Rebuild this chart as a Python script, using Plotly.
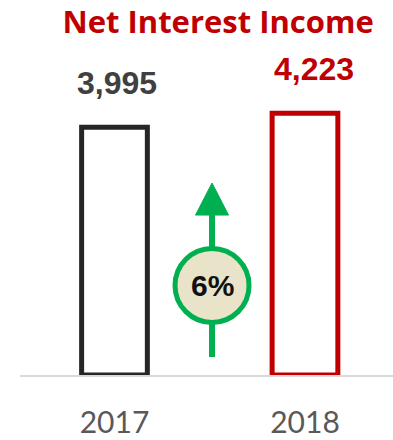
import plotly.graph_objects as go

# Net interest income by year
years = ["2017", "2018"]
income = [3995, 4223]
value_labels = ["3,995", "4,223"]
growth_label = "6%"

bar_colors = ["#262626", "#C00000"]
label_colors = ["#404040", "#C00000"]
green = "#00B050"

fig = go.Figure()
fig.add_trace(go.Bar(
    x=years, y=income, width=0.345,
    marker=dict(color="white", line=dict(color=bar_colors, width=5)),
    hoverinfo="skip",
))

# value labels above each bar (positioned by category index)
for i, (val, txt, col, dx) in enumerate(zip(income, value_labels, label_colors, [3, 9])):
    fig.add_annotation(x=i, y=val, text=f"<b>{txt}</b>", showarrow=False,
                       yanchor="middle", yshift=44, xshift=dx,
                       font=dict(family="Liberation Sans", size=32, color=col))

# growth arrow between the bars
ax = 0.512
head_half = 0.0866
fig.add_shape(type="line", x0=ax, x1=ax, y0=290, y1=2600, xref="x", yref="y",
              line=dict(color=green, width=6))
fig.add_shape(type="path", xref="x", yref="y",
              path=f"M {ax - head_half},2580 L {ax},3097 L {ax + head_half},2580 Z",
              fillcolor=green, line=dict(color=green, width=1))
fig.add_shape(type="circle", xref="x", yref="y", xsizemode="pixel", ysizemode="pixel",
              xanchor=ax, yanchor=1444, x0=-37, x1=37, y0=-37, y1=37,
              fillcolor="#E9E4C9", line=dict(color=green, width=5))
fig.add_annotation(x=ax, y=1444, text=f"<b>{growth_label}</b>", showarrow=False,
                   font=dict(family="Liberation Sans", size=30, color="#111111"))

fig.update_layout(
    width=393, height=440,
    margin=dict(l=20, r=0, t=65, b=65),
    paper_bgcolor="white", plot_bgcolor="white",
    showlegend=False,
    title=dict(text="<b>Net Interest Income</b>", x=0.555, y=0.95,
               xanchor="center", yanchor="middle", xref="container", yref="container",
               font=dict(family="Open Sans", size=31, color="#C00000")),
    xaxis=dict(type="category", range=[-0.496, 1.462], showline=True,
               linecolor="#D9D9D9", linewidth=2, showgrid=False, ticks="",
               tickfont=dict(family="Lato", size=30, color="#595959"),
               ticklabelstandoff=20, automargin=False, fixedrange=True),
    yaxis=dict(range=[0, 5000], visible=False, showgrid=False, zeroline=False,
               fixedrange=True),
)

fig.write_html("out.html")
